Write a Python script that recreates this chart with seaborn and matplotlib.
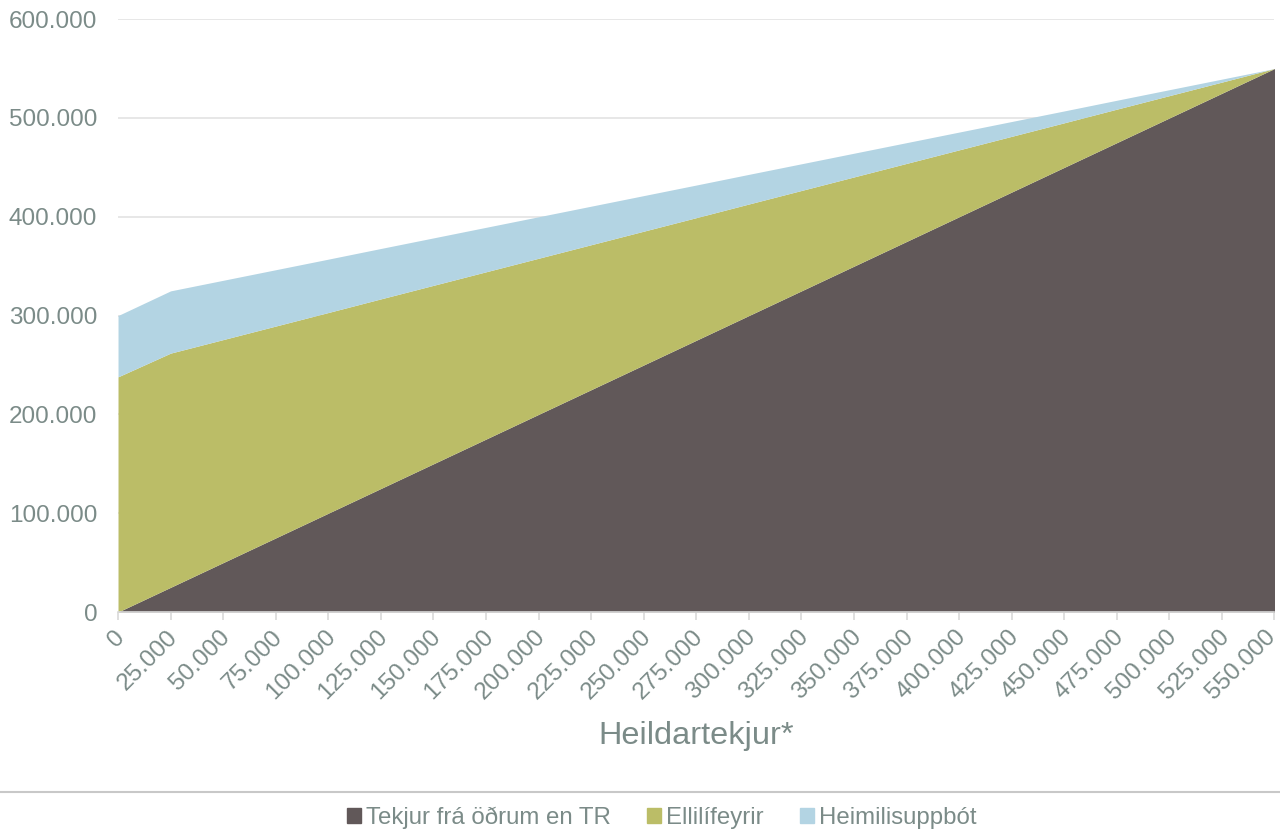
import numpy as np
import pandas as pd
import seaborn as sns
import matplotlib.pyplot as plt
import matplotlib.transforms as mtransforms
from matplotlib.patches import Patch
from matplotlib.lines import Line2D
from matplotlib.ticker import FuncFormatter

heildartekjur = [0, 25000, 50000, 75000, 100000, 125000, 150000, 175000, 200000, 225000,
                 250000, 275000, 300000, 325000, 350000, 375000, 400000, 425000, 450000,
                 475000, 500000, 525000, 550000]
tekjur_annad = [0, 25000, 50000, 75000, 100000, 125000, 150000, 175000, 200000, 225000,
                250000, 275000, 300000, 325000, 350000, 375000, 400000, 425000, 450000,
                475000, 500000, 525000, 550000]
ellilifeyrir = [238000, 237000, 225700, 214400, 203100, 191900, 180600, 169300, 158000,
                146700, 135400, 124100, 112900, 101600, 90300, 79000, 67700, 56400, 45100,
                33900, 22600, 11300, 0]
heimilisuppbot = [62000, 63000, 60000, 57000, 54000, 51000, 48000, 45000, 42000, 39000,
                  36000, 33000, 30000, 27000, 24000, 21000, 18000, 15000, 12000, 9000,
                  6000, 3000, 0]
series_names = ['Tekjur frá öðrum en TR', 'Ellilífeyrir', 'Heimilisuppbót']

df = pd.DataFrame({'x': heildartekjur, series_names[0]: tekjur_annad,
                   series_names[1]: ellilifeyrir, series_names[2]: heimilisuppbot})

sns.set_theme(style='white')
plt.rcParams['font.family'] = ['Liberation Sans', 'DejaVu Sans']
txt = '#7b8b88'
colors = ['#615859', '#bbbd67', '#b3d4e3']

fig = plt.figure(figsize=(12.8, 8.32), dpi=100)
ax = fig.add_axes([0.0922, 0.2644, 0.9035, 0.7126])
ax.stackplot(df['x'], df[series_names[0]], df[series_names[1]], df[series_names[2]],
             colors=colors, linewidth=0)

ax.set_xlim(0, 550000)
ax.set_ylim(0, 600000)
ax.set_yticks(range(0, 600001, 100000))
ax.set_xticks(heildartekjur)
fmt = FuncFormatter(lambda v, p: f'{int(v):,}'.replace(',', '.'))
ax.yaxis.set_major_formatter(fmt)
ax.xaxis.set_major_formatter(fmt)
ax.grid(axis='y', color='#e3e3e3', linewidth=1.2)
ax.set_axisbelow(True)
for s in ['left', 'right', 'top']:
    ax.spines[s].set_visible(False)
ax.spines['bottom'].set_color('#d9d9d9')
ax.spines['bottom'].set_linewidth(1.2)
ax.tick_params(axis='y', length=0, labelsize=17.5, labelcolor=txt, pad=15)
ax.tick_params(axis='x', length=6, width=1.2, color='#d9d9d9', direction='out',
               labelsize=17.5, labelcolor=txt, pad=4, bottom=True)
# nudge rotated labels a bit left; the last one a bit more so it stays inside
xlabels = ax.get_xticklabels()
for i, lbl in enumerate(xlabels):
    dx = -10 if i == len(xlabels) - 1 else -4
    shift = mtransforms.ScaledTranslation(dx / 100, 0, fig.dpi_scale_trans)
    lbl.set_rotation(45)
    lbl.set_ha('right')
    lbl.set_rotation_mode('anchor')
    lbl.set_transform(lbl.get_transform() + shift)
ax.set_xlabel('Heildartekjur*', fontsize=23.4, color=txt, labelpad=12)

fig.add_artist(Line2D([0, 1], [1 - 792 / 832, 1 - 792 / 832], color='#c8c8c8', linewidth=1.5))
handles = [Patch(color=c, label=n) for c, n in zip(colors, series_names)]
fig.legend(handles=handles, loc='center', bbox_to_anchor=(0.517, 1 - 818 / 832), ncol=3,
           frameon=False, fontsize=17.3, labelcolor=txt, handlelength=0.6, handleheight=0.6,
           handletextpad=0.2, columnspacing=1.5)

fig.savefig('out.png', dpi=100)
